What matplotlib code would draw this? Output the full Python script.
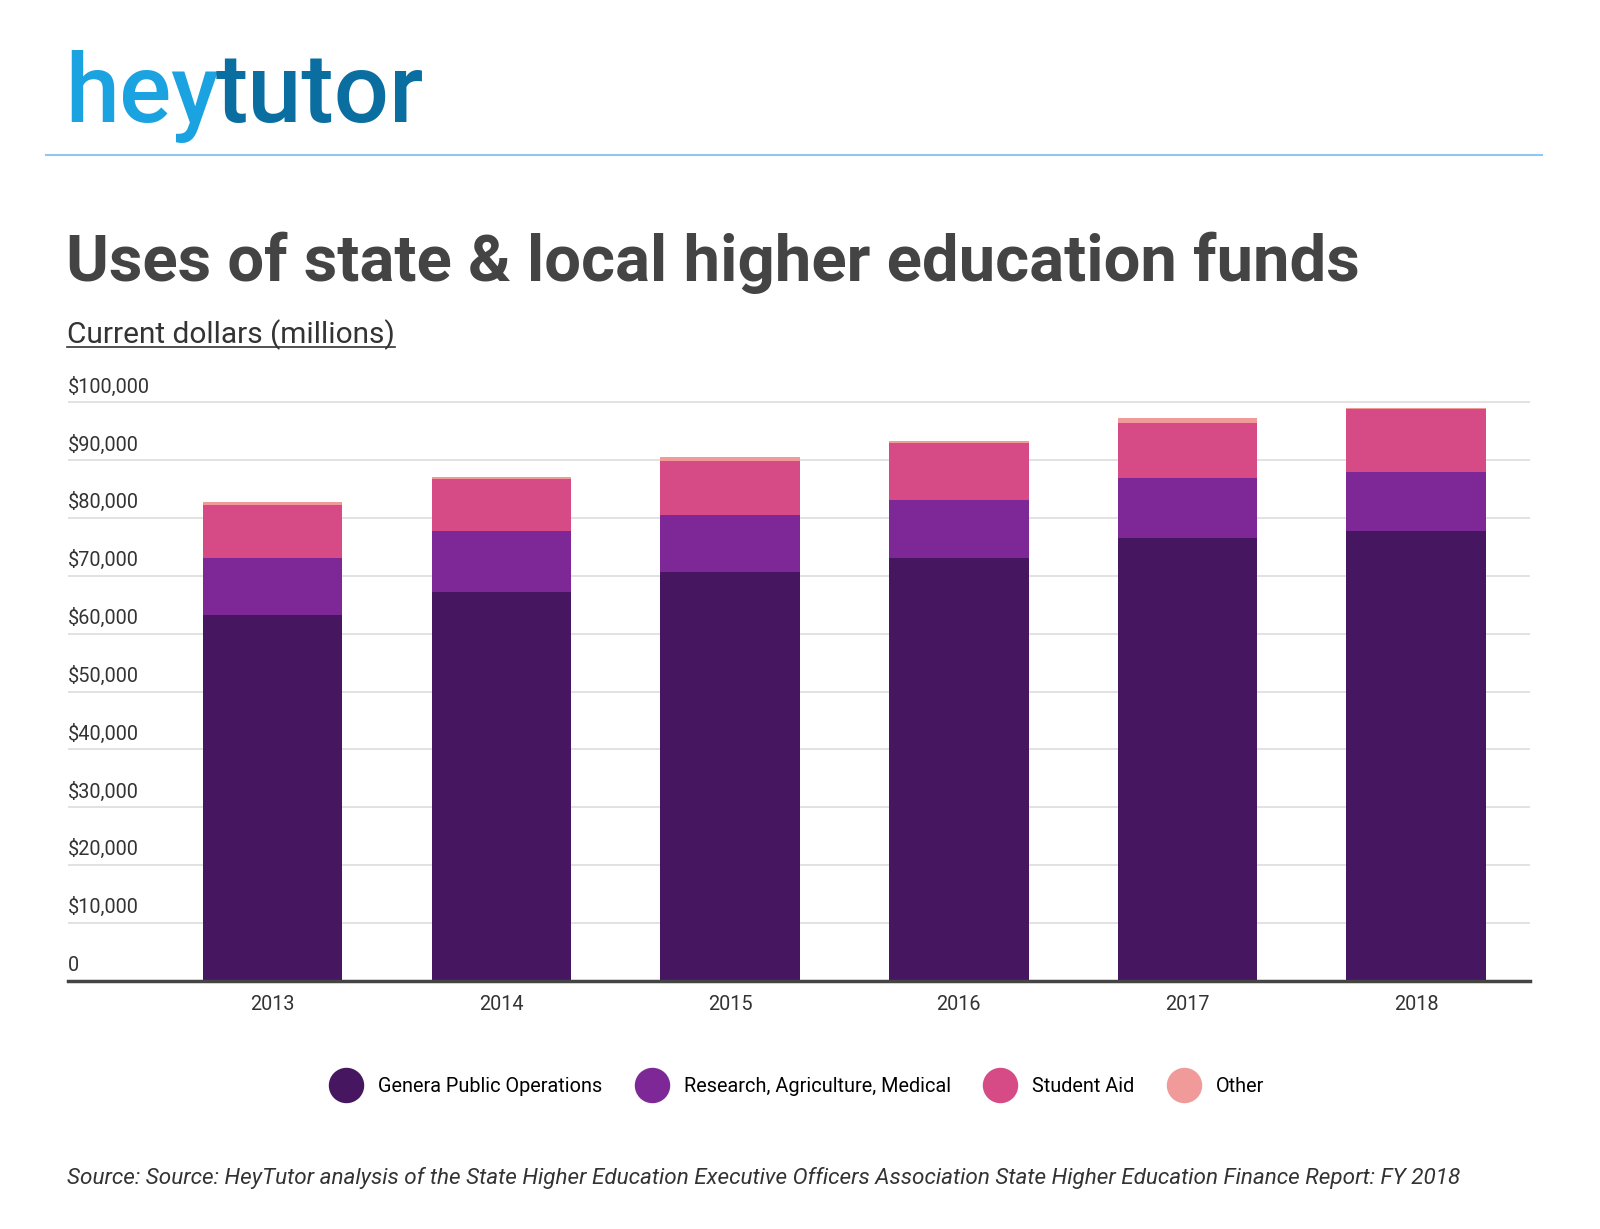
import matplotlib
matplotlib.use('Agg')
import matplotlib.pyplot as plt
from matplotlib.lines import Line2D
from matplotlib.transforms import blended_transform_factory

years = ['2013', '2014', '2015', '2016', '2017', '2018']
general = [63200, 67300, 70700, 73100, 76500, 77700]
research = [9900, 10400, 9900, 10100, 10400, 10300]
student_aid = [9200, 9000, 9300, 9700, 9600, 10800]
other = [400, 400, 700, 400, 800, 300]
yticks = list(range(0, 100001, 10000))
ytick_labels = ['0'] + ['${:,}'.format(v) for v in yticks[1:]]

names = ['Genera Public Operations', 'Research, Agriculture, Medical', 'Student Aid', 'Other']
colors = ['#461660', '#7d2896', '#d64a86', '#f09a9a']

plt.rcParams['font.family'] = 'Roboto'
fig = plt.figure(figsize=(16, 12.29), dpi=100)
ax = fig.add_axes([0.0422, 0.202, 0.9138, 0.48])

x = range(len(years))
bottom = [0] * len(years)
for vals, c in zip([general, research, student_aid, other], colors):
    ax.bar(x, vals, bottom=bottom, width=0.61, color=c, zorder=3)
    bottom = [b + v for b, v in zip(bottom, vals)]

ax.set_xlim(-0.897, 5.496)
ax.set_ylim(0, 102000)
ax.set_yticks(yticks)
ax.set_yticklabels([])
ax.tick_params(axis='y', length=0)
ax.grid(axis='y', color='#dddddd', linewidth=1.2, zorder=0)
trans = blended_transform_factory(ax.transAxes, ax.transData)
for v, lab in zip(yticks, ytick_labels):
    ax.text(0, v + 1000, lab, transform=trans, ha='left', va='bottom', fontsize=14.3, color='#333333')
ax.set_xticks(list(x))
ax.set_xticklabels(years, fontsize=14.3, color='#333333')
ax.tick_params(axis='x', length=0, pad=10)
for s in ['top', 'right', 'left']:
    ax.spines[s].set_visible(False)
ax.spines['bottom'].set_color('#444444')
ax.spines['bottom'].set_linewidth(2.5)
ax.spines['bottom'].set_zorder(4)

# header
renderer = fig.canvas.get_renderer()
hey = fig.text(0.041, 0.901, 'hey', fontsize=70, fontweight='medium', color='#1aa3e0', ha='left', va='baseline')
bb = hey.get_window_extent(renderer).transformed(fig.transFigure.inverted())
fig.text(bb.x1 - 0.002, 0.901, 'tutor', fontsize=70, fontweight='medium', color='#0a6fa0', ha='left', va='baseline')
fig.add_artist(Line2D([0.029, 0.964], [0.874, 0.874], color='#8cc8f0', linewidth=1.5))
fig.text(0.041, 0.771, 'Uses of state & local higher education funds', fontsize=47, fontweight='bold',
         color='#444444', ha='left', va='baseline')
sub = fig.text(0.042, 0.721, 'Current dollars (millions)', fontsize=21.5, color='#333333', ha='left', va='baseline')
sb = sub.get_window_extent(renderer).transformed(fig.transFigure.inverted())
fig.add_artist(Line2D([sb.x0, sb.x1], [0.7175, 0.7175], color='#333333', linewidth=1.2))

handles = [Line2D([], [], marker='o', linestyle='', markersize=24.5, color=c) for c in colors]
fig.legend(handles, names, loc='center', bbox_to_anchor=(0.497, 0.116), ncol=4, frameon=False,
           fontsize=14.3, handletextpad=0.6, columnspacing=1.5)

fig.text(0.042, 0.037, 'Source: Source: HeyTutor analysis of the State Higher Education Executive Officers Association '
         'State Higher Education Finance Report: FY 2018', fontsize=16.2, style='italic', color='#333333',
         ha='left', va='baseline')

fig.savefig('out.png', dpi=100)
